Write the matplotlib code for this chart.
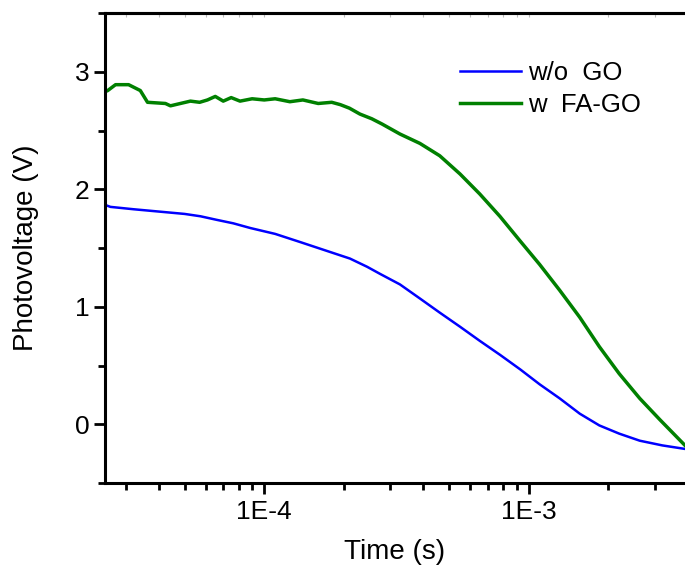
import math
import matplotlib
matplotlib.use("Agg")
import matplotlib.pyplot as plt
from matplotlib.ticker import LogLocator, FixedLocator, FuncFormatter, MultipleLocator, NullFormatter

plt.rcParams['font.family'] = ['Liberation Sans', 'DejaVu Sans']

# photovoltage decay
t_wo = [2.55e-5, 2.62e-5, 3.2e-5, 4.0e-5, 5.0e-5, 5.74e-5, 6.6e-5, 7.64e-5, 8.86e-5,
        1.1e-4, 1.37e-4, 1.7e-4, 2.11e-4, 2.45e-4, 2.74e-4, 3.26e-4, 3.88e-4,
        4.61e-4, 5.5e-4, 6.53e-4, 7.8e-4, 9.3e-4, 1.1e-3, 1.31e-3, 1.56e-3,
        1.85e-3, 2.2e-3, 2.63e-3, 3.2e-3, 3.9e-3]
v_wo = [1.86, 1.85, 1.83, 1.81, 1.79, 1.77, 1.74, 1.71, 1.67,
        1.62, 1.55, 1.48, 1.41, 1.34, 1.28, 1.19, 1.07,
        0.95, 0.83, 0.71, 0.59, 0.466, 0.34, 0.22, 0.09,
        -0.01, -0.08, -0.14, -0.18, -0.21]

t_fa = [2.5e-5, 2.56e-5, 2.74e-5, 3.07e-5, 3.4e-5, 3.62e-5, 4.23e-5, 4.42e-5, 4.82e-5,
        5.26e-5, 5.7e-5, 6.1e-5, 6.53e-5, 7.0e-5, 7.5e-5, 8.1e-5, 9.0e-5, 1.0e-4,
        1.1e-4, 1.25e-4, 1.4e-4, 1.6e-4, 1.8e-4, 1.94e-4, 2.1e-4, 2.3e-4, 2.55e-4,
        2.79e-4, 3.26e-4, 3.88e-4, 4.61e-4,
        5.5e-4, 6.53e-4, 7.78e-4, 9.28e-4, 1.1e-3, 1.31e-3, 1.56e-3, 1.85e-3,
        2.2e-3, 2.63e-3, 3.13e-3, 3.9e-3]
v_fa = [2.83, 2.84, 2.89, 2.89, 2.84, 2.74, 2.73, 2.71, 2.73,
        2.75, 2.74, 2.76, 2.79, 2.75, 2.78, 2.75, 2.77, 2.76,
        2.77, 2.745, 2.76, 2.73, 2.74, 2.72, 2.69, 2.64, 2.6,
        2.555, 2.47, 2.39, 2.285,
        2.13, 1.96, 1.77, 1.56, 1.36, 1.14, 0.91, 0.66,
        0.43, 0.22, 0.04, -0.18]

labels = ['w/o  GO', 'w  FA-GO']
colors = ['#0000FF', '#008000']

fig = plt.figure(figsize=(6.85, 5.7), dpi=100)
ax = fig.add_axes([105/685, 1-483/570, 1-105/685, (483-13)/570])

ax.plot(t_wo, v_wo, color=colors[0], lw=1.8, label=labels[0])
ax.plot(t_fa, v_fa, color=colors[1], lw=2.5, label=labels[1])

ax.set_xscale('log')
ax.set_xlim(2.5e-5, 3.9e-3)
ax.set_ylim(-0.5, 3.5)

ax.xaxis.set_major_locator(FixedLocator([1e-4, 1e-3]))
ax.xaxis.set_minor_locator(LogLocator(base=10, subs=range(2, 10)))
ax.xaxis.set_major_formatter(FuncFormatter(lambda v, p: '1E%d' % round(math.log10(v))))
ax.xaxis.set_minor_formatter(NullFormatter())
ax.yaxis.set_major_locator(MultipleLocator(1))
ax.yaxis.set_minor_locator(MultipleLocator(0.5))

for s in ['left', 'bottom', 'top']:
    ax.spines[s].set_linewidth(2.2)
ax.spines['right'].set_visible(False)

ax.tick_params(which='major', direction='out', length=8, width=2, labelsize=19, pad=3)
ax.tick_params(which='minor', direction='out', length=5, width=2)
ax.tick_params(axis='x', which='both', pad=4)

# faint inward ticks along the top edge
top = ax.secondary_xaxis('top')
top.xaxis.set_major_locator(FixedLocator([1e-4, 1e-3]))
top.xaxis.set_minor_locator(LogLocator(base=10, subs=range(2, 10)))
top.xaxis.set_major_formatter(NullFormatter())
top.xaxis.set_minor_formatter(NullFormatter())
top.tick_params(which='both', direction='in', length=3, width=0.8, color='#bbbbbb')
top.spines['top'].set_linewidth(2.2)

ax.set_xlabel('Time (s)', fontsize=20, labelpad=11)
ax.set_ylabel('Photovoltage (V)', fontsize=20, labelpad=26)

ax.legend(loc='upper left', bbox_to_anchor=(0.595, 0.92), frameon=False,
          fontsize=18.5, handlelength=2.35, handletextpad=0.3, labelspacing=0.3,
          borderaxespad=0)

fig.savefig('out.png', dpi=100)
